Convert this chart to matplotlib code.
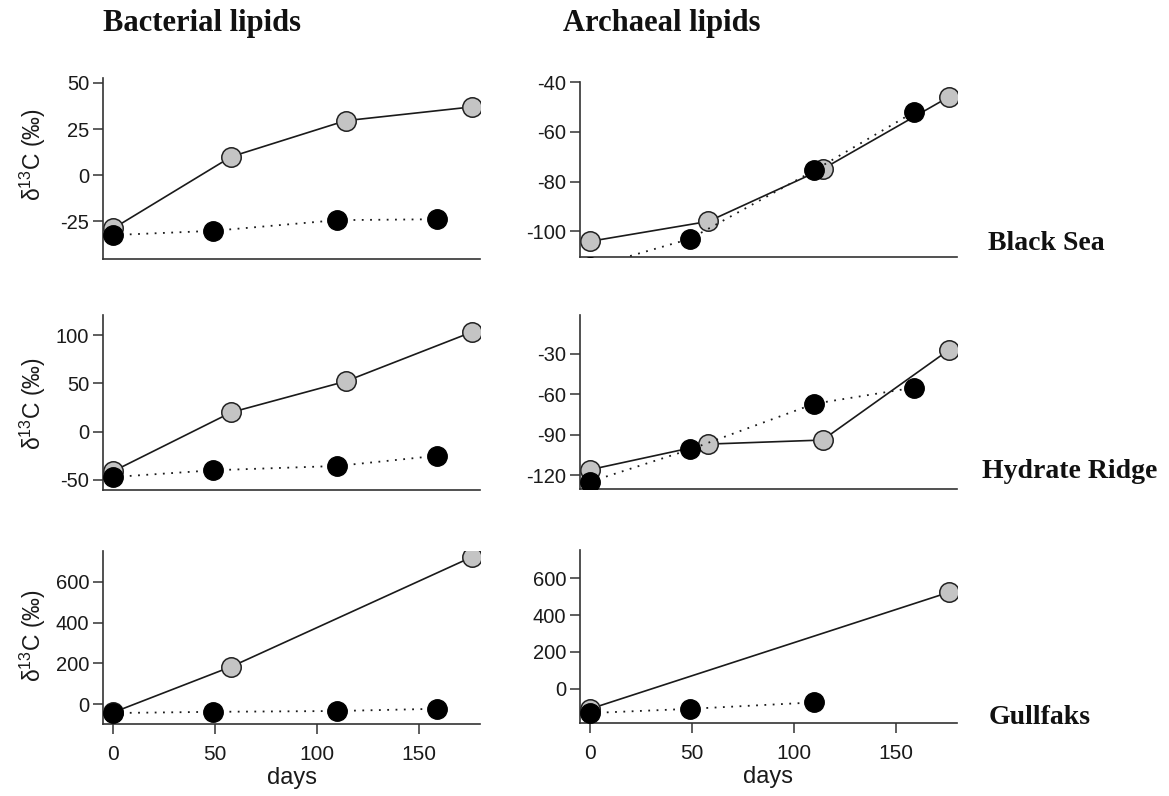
import matplotlib
matplotlib.use("Agg")
import matplotlib.pyplot as plt

plt.rcParams['font.family'] = ['Liberation Sans', 'DejaVu Sans']
plt.rcParams['mathtext.default'] = 'regular'

# ---------------- data ----------------
days_gray = [0, 58, 114, 176]
days_black = [0, 49, 110, 159]

bs_bact_gray = [-29, 10, 29.5, 37]
bs_bact_black = [-32.6, -30.3, -24.5, -24]
bs_arch_gray = [-104, -96, -75, -46]
bs_arch_black = [-114.5, -103, -75.5, -52]

hr_bact_gray = [-41, 20, 52, 103]
hr_bact_black = [-47, -40, -35.5, -25]
hr_arch_gray = [-116, -97, -94, -27]
hr_arch_black = [-125, -101, -67, -55]

gf_bact_days_gray = [0, 58, 176]
gf_bact_gray = [-41, 184, 722]
gf_bact_black = [-44, -38, -34, -23]
gf_arch_days_gray = [0, 176]
gf_arch_gray = [-109, 524]
gf_arch_days_black = [0, 49, 110]
gf_arch_black = [-132, -109, -74]

col_titles = ["Bacterial lipids", "Archaeal lipids"]
row_labels = ["Black Sea", "Hydrate Ridge", "Gullfaks"]
x_ticks = [0, 50, 100, 150]

panels = [
    # (gray x, gray y, black x, black y, ylim, yticks, pixel box (x0,y0,x1,y1))
    (days_gray, bs_bact_gray, days_black, bs_bact_black, (-45.6, 52.7), [-25, 0, 25, 50], (103, 78, 480, 259)),
    (days_gray, bs_arch_gray, days_black, bs_arch_black, (-110.3, -40.3), [-100, -80, -60, -40], (580, 82, 957, 257)),
    (days_gray, hr_bact_gray, days_black, hr_bact_black, (-60.4, 120.7), [-50, 0, 50, 100], (103, 315, 480, 490)),
    (days_gray, hr_arch_gray, days_black, hr_arch_black, (-130.4, -1), [-120, -90, -60, -30], (580, 315, 957, 489)),
    (gf_bact_days_gray, gf_bact_gray, days_black, gf_bact_black, (-97.8, 751.6), [0, 200, 400, 600], (103, 551, 480, 724)),
    (gf_arch_days_gray, gf_arch_gray, gf_arch_days_black, gf_arch_black, (-186, 754), [0, 200, 400, 600], (580, 550, 957, 723)),
]

W, H = 1169, 796
fig = plt.figure(figsize=(W / 100, H / 100), dpi=100)

spine_col = '#333333'
for i, (gx, gy, bx, by, ylim, yt, box) in enumerate(panels):
    x0, y0, x1, y1 = box
    ax = fig.add_axes([x0 / W, 1 - y1 / H, (x1 - x0) / W, (y1 - y0) / H])
    ax.plot(gx, gy, '-', color='#1a1a1a', lw=1.2, marker='o', ms=14,
            mfc='#c4c4c4', mec='#222222', mew=1.1, zorder=2)
    ax.plot(bx, by, color='#1a1a1a', lw=1.3, ls=(0, (1, 3.6)), marker='o', ms=14,
            mfc='black', mec='black', zorder=3)
    ax.set_xlim(-5, 180)
    ax.set_ylim(*ylim)
    ax.set_yticks(yt)
    ax.set_yticklabels([str(v) for v in yt])
    for s in ['top', 'right']:
        ax.spines[s].set_visible(False)
    for s in ['left', 'bottom']:
        ax.spines[s].set_color(spine_col)
        ax.spines[s].set_linewidth(1.2)
    ax.tick_params(axis='y', direction='out', length=7, width=1.1, color=spine_col,
                   labelsize=14.5, pad=3, labelcolor='#1a1a1a')
    if i >= 4:
        ax.set_xticks(x_ticks)
        ax.tick_params(axis='x', direction='out', length=7, width=1.1, color=spine_col,
                       labelsize=15, pad=8, labelcolor='#1a1a1a')
        ax.set_xlabel('days', fontsize=17, labelpad=2, color='#1a1a1a')
    else:
        ax.set_xticks([])
    ax.patch.set_alpha(0)

# y labels
for yc in [155, 404, 636]:
    fig.text(33 / W, 1 - yc / H, 'δ$^{13}$C (‰)', rotation=90, ha='center', va='center',
             fontsize=16.5, color='#1a1a1a')

# column titles
for xs, t in zip([103, 563], col_titles):
    fig.text(xs / W, 1 - 23 / H, t, ha='left', va='center', fontsize=22,
             fontweight='bold', family='Liberation Serif', color='#111111')

# row labels
for (xs, yc), t in zip([(988, 243), (982, 472), (989, 718)], row_labels):
    fig.text(xs / W, 1 - yc / H, t, ha='left', va='center', fontsize=20,
             fontweight='bold', family='Liberation Serif', color='#111111')

fig.savefig('out.png', dpi=100)
